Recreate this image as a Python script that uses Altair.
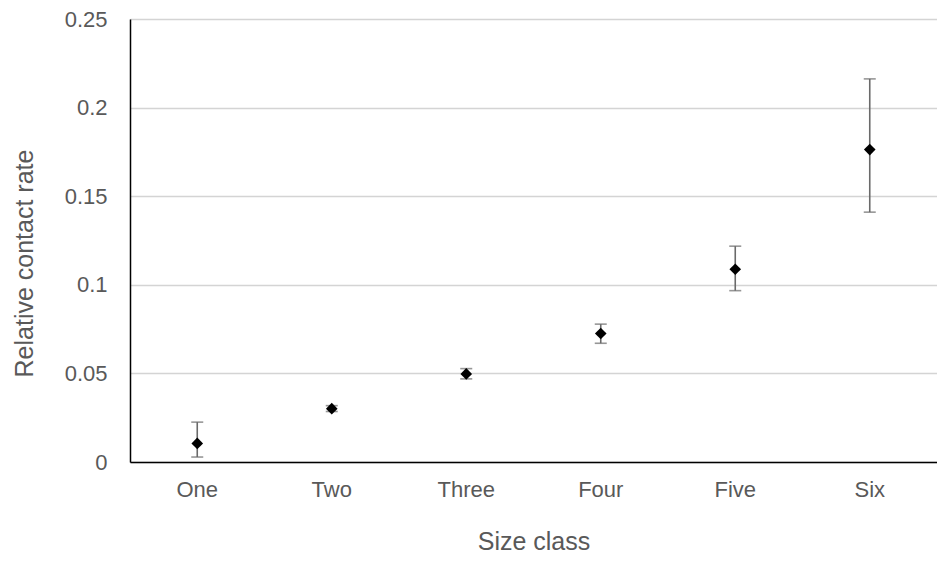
import altair as alt
import pandas as pd

categories = ["One", "Two", "Three", "Four", "Five", "Six"]
means = [0.0105, 0.0301, 0.0497, 0.0725, 0.1088, 0.1763]
lower = [0.0028, 0.0285, 0.0469, 0.0670, 0.0967, 0.1410]
upper = [0.0225, 0.0318, 0.0527, 0.0778, 0.1218, 0.2162]

df = pd.DataFrame({"cat": categories, "mean": means, "lo": lower, "hi": upper})

FONT = "Liberation Sans"
GREY = "#595959"

x = alt.X("cat:N", sort=categories, title="Size class",
          scale=alt.Scale(paddingInner=0, paddingOuter=0),
          axis=alt.Axis(labelAngle=0, ticks=False, domain=True, domainColor="#000000",
                        domainWidth=1.5, labelPadding=17, titlePadding=29,
                        labelFontSize=22, titleFontSize=25, labelColor=GREY,
                        titleColor=GREY, labelFont=FONT, titleFont=FONT,
                        titleFontWeight="normal"))
y_scale = alt.Scale(domain=[0, 0.25], nice=False)

base = alt.Chart(df)

rules = base.mark_rule(color="#6a6a6a", strokeWidth=1.6).encode(
    x=x,
    y=alt.Y("lo:Q", scale=y_scale, title="Relative contact rate",
            axis=alt.Axis(values=[0, 0.05, 0.1, 0.15, 0.2, 0.25], ticks=False,
                          grid=True, gridColor="#d4d4d4", gridWidth=1.3,
                          domain=True, domainColor="#000000", domainWidth=1.5,
                          labelPadding=23, titlePadding=27, titleY=244,
                          labelFontSize=22, titleFontSize=25, labelColor=GREY,
                          titleColor=GREY, labelFont=FONT, titleFont=FONT,
                          titleFontWeight="normal",
                          labelExpr="datum.value == 0 ? '0' : format(datum.value, '.3~g')")),
    y2="hi:Q",
)

cap_lo = base.mark_tick(color="#6a6a6a", thickness=1.6, size=12).encode(
    x=x, y=alt.Y("lo:Q", scale=y_scale))
cap_hi = base.mark_tick(color="#6a6a6a", thickness=1.6, size=12).encode(
    x=x, y=alt.Y("hi:Q", scale=y_scale))

points = base.mark_point(shape="diamond", filled=True, color="#000000",
                         size=135, opacity=1).encode(
    x=x, y=alt.Y("mean:Q", scale=y_scale))

chart = alt.layer(rules, cap_lo, cap_hi, points).properties(
    width=807, height=443,
    autosize=alt.AutoSizeParams(type="none"),
    padding={"left": 122, "top": 11, "right": 0, "bottom": 94},
).configure_view(stroke=None).configure(background="#ffffff")

chart.save("out.html", embed_options={"renderer": "svg", "actions": False})
